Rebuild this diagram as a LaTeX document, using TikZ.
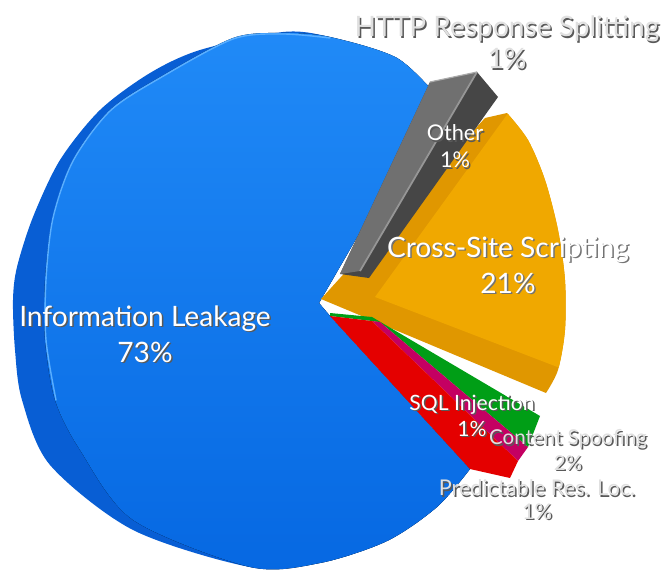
\documentclass[tikz,border=0pt]{standalone}
\usepackage{fontspec}
\setmainfont{Lato}
\usetikzlibrary{positioning}

\definecolor{leakTop}{RGB}{32,138,247}
\definecolor{leakBottom}{RGB}{6,104,226}
\definecolor{leakSide}{RGB}{8,94,212}
\definecolor{leakRim}{RGB}{90,175,255}
\definecolor{otherTop}{RGB}{112,112,112}
\definecolor{otherSide}{RGB}{70,70,70}
\definecolor{otherRim}{RGB}{150,150,150}
\definecolor{xssTop}{RGB}{240,168,0}
\definecolor{xssSide}{RGB}{224,151,0}
\definecolor{spoofGreen}{RGB}{0,158,22}
\definecolor{sqlMagenta}{RGB}{196,0,98}
\definecolor{predRed}{RGB}{228,0,0}

\tikzstyle{bigLabel} = [
    text=white,
    font=\fontsize{24}{31}\selectfont,
    align=center,
    inner sep=0pt
    ]
\tikzstyle{smallLabel} = [
    text=white,
    font=\fontsize{18}{22}\selectfont,
    align=center,
    inner sep=0pt
    ]
\tikzstyle{outLabel} = [
    text=black!12,
    align=center,
    inner sep=0pt
    ]
\tikzstyle{shadowText} = [
    text=black!65,
    align=center,
    inner sep=0pt
    ]

\begin{document}
\begin{tikzpicture}[x=0.3mm, y=-0.3mm]
      \useasboundingbox (0,0) rectangle (663,571);

      % Information Leakage
      \fill[leakSide] (319,303) -- plot[smooth] coordinates {(438,97) (397,58) (330,37) (283,32) (200,50) (150,73) (100,110) (60,160) (33,217) (17,267) (13,300) (15,350) (22,400) (50,465) (133,530) (250,567) (320,563) (387,541) (437,507) (470,469)} -- (330,316) -- cycle;
      \fill[top color=leakTop, bottom color=leakBottom] (319,303) -- plot[smooth] coordinates {(438,97) (397,58) (330,37) (283,33) (233,38) (160,77) (110,110) (73,160) (53,217) (45,280) (45,340) (55,400) (80,450) (133,520) (250,567) (320,563) (387,541) (437,507) (470,469)} -- (330,316) -- cycle;
      \draw[leakRim, line width=1.2, line cap=round] plot[smooth] coordinates {(330,38) (283,34) (233,39) (160,78) (110,111) (73,161) (53,218) (46,280) (46,340) (56,400)};

      % Cross-Site Scripting
      \begin{scope}
        \clip (321,299) -- (485,118) -- plot[smooth] coordinates {(507,113) (528,140) (545,180) (558,230) (565,280) (565,330) (558,370) (546,393)} -- cycle;
        \fill[xssSide] (300,90) rectangle (600,420);
        \fill[xssTop] (375,297) -- (514,105) -- (620,105) -- (620,391) -- cycle;
      \end{scope}

      % Other / HTTP Response Splitting
      \fill[otherSide] (340,274) -- (430,82) -- (477,72) -- (498,97) -- (369,278) -- cycle;
      \fill[otherTop] (340,274) -- (430,82) -- (477,72) -- (360,271) -- cycle;
      \draw[otherRim, line width=1.5] (477,72) -- (360,271);
      \draw[otherRim!80, line width=1] (430,82) -- (477,72);

      % Content Spoofing, SQL Injection, Predictable Res. Loc.
      \fill[spoofGreen] (330,313) -- (372,317) -- (540,416) -- (528,447) -- (380,322) -- (372,321) -- (330,316) -- cycle;
      \fill[sqlMagenta] (380,322) -- (528,447) -- (518,461) -- (372,321) -- cycle;
      \fill[predRed] (330,316) -- (372,321) -- (518,461) -- (510,478) -- (470,469) -- cycle;

      % labels on the slices
      \node[bigLabel, text=black!65] at (146.5,335.5) (leakShadow) {Information Leakage\\73\%};
      \node[bigLabel] at (145,334) (leakLabel) {Information Leakage\\73\%};
      \node[bigLabel, text=black!55] at (509.5,266.5) (xssShadow) {Cross-Site Scripting\\21\%};
      \node[bigLabel] at (508,265) (xssLabel) {Cross-Site Scripting\\21\%};
      \node[smallLabel, font=\fontsize{18.5}{23}\selectfont, text=black!65] at (456.5,148) (otherShadow) {Other\\1\%};
      \node[smallLabel, font=\fontsize{18.5}{23}\selectfont] at (455,146.5) (otherLabel) {Other\\1\%};
      \node[smallLabel, text=black!65] at (473.5,417) (sqlShadow) {SQL Injection\\1\%};
      \node[smallLabel] at (472,415.5) (sqlLabel) {SQL Injection\\1\%};

      % labels outside the pie
      \node[shadowText, font=\fontsize{24}{27}\selectfont] at (508.5,44) (httpShadow) {HTTP Response Splitting\\1\%};
      \node[outLabel, font=\fontsize{24}{27}\selectfont] at (507,42.5) (httpLabel) {HTTP Response Splitting\\1\%};
      \node[shadowText, font=\fontsize{17.5}{22}\selectfont] at (569.5,451.5) (spoofShadow) {Content Spoofing\\2\%};
      \node[outLabel, font=\fontsize{17.5}{22}\selectfont] at (568,450) (spoofLabel) {Content Spoofing\\2\%};
      \node[shadowText, font=\fontsize{18.5}{20}\selectfont] at (538.5,501) (predShadow) {Predictable Res. Loc.\\1\%};
      \node[outLabel, font=\fontsize{18.5}{20}\selectfont] at (537,499.5) (predLabel) {Predictable Res. Loc.\\1\%};
    \end{tikzpicture}
\end{document}
